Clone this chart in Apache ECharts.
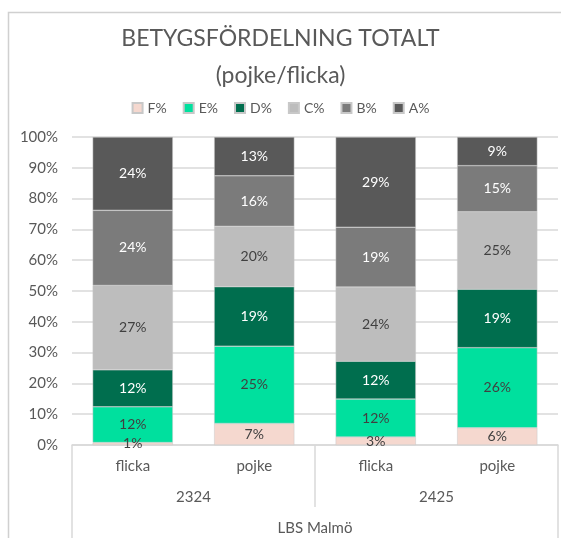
<!DOCTYPE html>
<html>
<head>
<meta charset="utf-8">
<script src="https://cdn.jsdelivr.net/npm/echarts@6/dist/echarts.min.js"></script>
<style>
  html, body { margin: 0; padding: 0; background: #fff; }
  #chart { width: 561px; height: 538px; }
</style>
</head>
<body>
<div id="chart"></div>
<script>
const genders = ['flicka', 'pojke', 'flicka', 'pojke']
const years = ['2324', '2425']
const schools = ['LBS Malmö']
const yTicks = ['0%', '10%', '20%', '30%', '40%', '50%', '60%', '70%', '80%', '90%', '100%']

// share of each grade per bar, in percent
const gradeF = [0.8, 7.0, 2.6, 5.6]
const gradeE = [11.6, 25.1, 12.3, 26.0]
const gradeD = [12.0, 19.3, 12.3, 19.0]
const gradeC = [27.4, 19.6, 24.1, 25.1]
const gradeB = [24.4, 16.4, 19.4, 15.0]
const gradeA = [23.8, 12.6, 29.3, 9.3]

const font = 'Lato, "Open Sans", sans-serif'
const textGray = '#595959'
const lineGray = '#d9d9d9'

const grades = [
  { name: 'F%', data: gradeF, color: '#f5d8cf', label: '#404040' },
  { name: 'E%', data: gradeE, color: '#00e09e', label: '#404040' },
  { name: 'D%', data: gradeD, color: '#006e4e', label: '#ffffff' },
  { name: 'C%', data: gradeC, color: '#bdbdbd', label: '#404040' },
  { name: 'B%', data: gradeB, color: '#7b7b7b', label: '#ffffff' },
  { name: 'A%', data: gradeA, color: '#595959', label: '#ffffff' },
]

const chart = echarts.init(document.getElementById('chart'))

chart.setOption({
  backgroundColor: '#fff',
  animation: false,
  textStyle: { fontFamily: font, color: textGray },
  title: {
    text: 'BETYGSFÖRDELNING TOTALT\n(pojke/flicka)',
    left: 'center',
    top: 15,
    textStyle: { fontFamily: font, fontWeight: 'normal', fontSize: 23, lineHeight: 37, color: textGray },
  },
  legend: {
    top: 96,
    left: 'center',
    itemWidth: 10,
    itemHeight: 10,
    itemGap: 16,
    icon: 'rect',
    textStyle: { fontFamily: font, fontSize: 14, color: textGray },
    data: grades.map((g) => g.name),
  },
  grid: { left: 72, right: 3, top: 137, bottom: 93, containLabel: false },
  xAxis: [
    {
      type: 'category',
      data: genders,
      axisLine: { show: true, lineStyle: { color: lineGray, width: 1.5 } },
      axisTick: { show: false },
      axisLabel: { fontFamily: font, fontSize: 15, color: textGray, margin: 14 },
    },
    {
      type: 'category',
      data: years,
      position: 'bottom',
      axisLine: { show: false },
      axisTick: { show: true, alignWithLabel: false, length: 62, lineStyle: { color: lineGray, width: 1.5 } },
      axisLabel: { fontFamily: font, fontSize: 15, color: textGray, margin: 45 },
    },
    {
      type: 'category',
      data: schools,
      position: 'bottom',
      axisLine: { show: false },
      axisTick: { show: true, length: 100, lineStyle: { color: lineGray, width: 1.5 } },
      axisLabel: { fontFamily: font, fontSize: 15, color: textGray, margin: 76 },
    },
  ],
  yAxis: {
    type: 'value',
    min: 0,
    max: 100,
    interval: 10,
    axisLine: { show: false },
    axisTick: { show: false },
    splitLine: { lineStyle: { color: lineGray, width: 1.5 } },
    axisLabel: {
      fontFamily: font,
      fontSize: 15,
      color: textGray,
      margin: 14,
      formatter: (v) => yTicks[Math.round(v / 10)],
    },
  },
  series: grades.map((g) => ({
    name: g.name,
    type: 'bar',
    stack: 'total',
    xAxisIndex: 0,
    barCategoryGap: '34%',
    data: g.data,
    itemStyle: { color: g.color, borderColor: '#c8c8c8', borderWidth: 0.5 },
    label: {
      show: true,
      position: 'inside',
      fontFamily: font,
      fontSize: 14,
      color: g.label,
      formatter: (p) => Math.round(p.value) + '%',
    },
  })),
  graphic: [
    {
      type: 'polyline',
      shape: { points: [[8.5, 538], [8.5, 12.5], [561, 12.5]] },
      style: { stroke: '#d0d0d0', lineWidth: 1.5, fill: null },
      silent: true,
    },
  ],
})
</script>
</body>
</html>
